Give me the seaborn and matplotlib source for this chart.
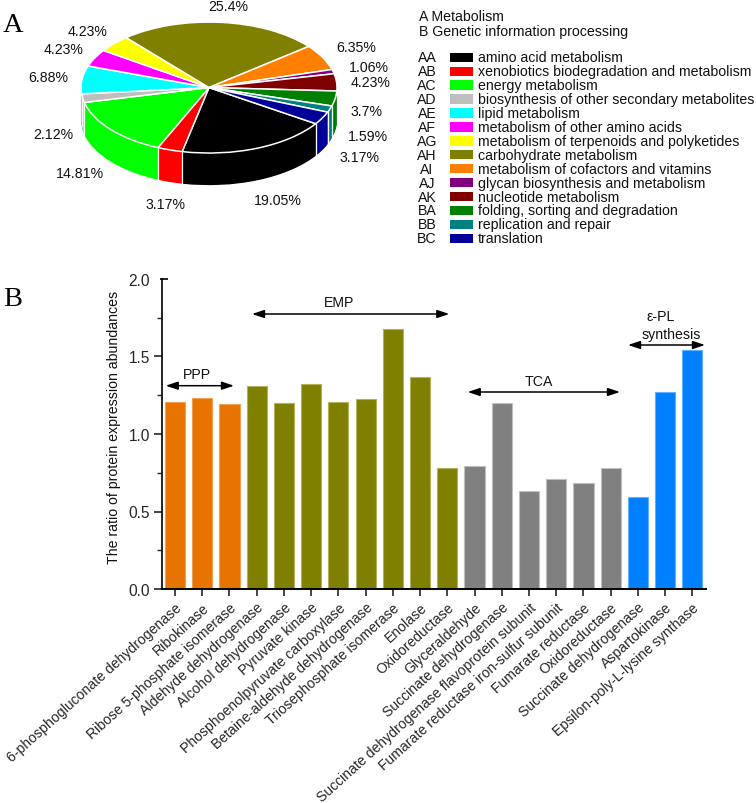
import numpy as np
import pandas as pd
import matplotlib
matplotlib.use('Agg')
import matplotlib.pyplot as plt
from matplotlib.patches import Rectangle
from matplotlib.transforms import ScaledTranslation
import seaborn as sns

# Pie data (panel A)
pie_codes = ['AA', 'AB', 'AC', 'AD', 'AE', 'AF', 'AG', 'AH', 'AI', 'AJ', 'AK', 'BA', 'BB', 'BC']
pie_names = ['amino acid metabolism', 'xenobiotics biodegradation and metabolism', 'energy metabolism',
             'biosynthesis of other secondary metabolites', 'lipid metabolism',
             'metabolism of other amino acids', 'metabolism of terpenoids and polyketides',
             'carbohydrate metabolism', 'metabolism of cofactors and vitamins',
             'glycan biosynthesis and metabolism', 'nucleotide metabolism',
             'folding, sorting and degradation', 'replication and repair', 'translation']
pie_values = [19.05, 3.17, 14.81, 2.12, 6.88, 4.23, 4.23, 25.4, 6.35, 1.06, 4.23, 3.7, 1.59, 3.17]
pie_colors = ['#000000', '#FF0000', '#00FF00', '#BEBEBE', '#00FFFF', '#FF00FF', '#FFFF00',
              '#808000', '#FF8000', '#800080', '#800000', '#008000', '#008080', '#000099']

# Bar data (panel B)
proteins = ['6-phosphogluconate dehydrogenase', 'Ribokinase', 'Ribose 5-phosphate isomerase',
            'Aldehyde dehydrogenase', 'Alcohol dehydrogenase', 'Pyruvate kinase',
            'Phosphoenolpyruvate carboxylase', 'Betaine-aldehyde dehydrogenase',
            'Triosephosphate isomerase', 'Enolase', 'Oxidoreductase', 'Glyceraldehyde',
            'Succinate dehydrogenase', 'Succinate dehydrogenase flavoprotein subunit',
            'Fumarate reductase iron-sulfur subunit', 'Fumarate reductase', 'Oxidoreductase ',
            'Succinate dehydrogenase ', 'Aspartokinase', 'Epsilon-poly-L-lysine synthase']
ratios = [1.204, 1.23, 1.193, 1.307, 1.198, 1.325, 1.209, 1.226, 1.675, 1.366, 0.783,
          0.794, 1.2, 0.63, 0.708, 0.686, 0.783, 0.591, 1.273, 1.54]
groups = ['PPP'] * 3 + ['EMP'] * 8 + ['TCA'] * 6 + ['PL'] * 3
group_colors = {'PPP': '#E87400', 'EMP': '#808000', 'TCA': '#808080', 'PL': '#0080FF'}
group_edges = {'PPP': '#F0A050', 'EMP': '#B0B060', 'TCA': '#C0C0C0', 'PL': '#60B0FF'}

W, H = 756, 804
FONT = 10.2


def px_axes(fig, left, top, right, bottom):
    # axes placed by pixel box, origin top left
    return fig.add_axes([left / W, 1 - bottom / H, (right - left) / W, (bottom - top) / H])


sns.set_theme(style='white')
plt.rcParams['font.family'] = ['Liberation Sans', 'DejaVu Sans']
plt.rcParams['text.color'] = '#111111'
fig = plt.figure(figsize=(W / 100, H / 100), dpi=100)

# 3D looking pie: stacked pies for the wall, then the white-edged top
ax_pie = px_axes(fig, 68.2, 16.5, 349.8, 199.9)
depth = 0.49
start = -33.5
for dy in np.linspace(depth, 0.01, 50):
    ax_pie.pie(pie_values, colors=pie_colors, startangle=start, counterclock=False,
               center=(0, -dy), wedgeprops={'linewidth': 0})
angles = np.radians(start - np.cumsum(pie_values) / sum(pie_values) * 360)
for a in angles:
    if np.sin(a) < 0:
        ax_pie.plot([np.cos(a)] * 2, [np.sin(a), np.sin(a) - depth], color='white', lw=0.9)
ax_pie.pie(pie_values, colors=pie_colors, startangle=start, counterclock=False,
           wedgeprops={'linewidth': 1.1, 'edgecolor': 'white'})
ax_pie.set_aspect('auto')
ax_pie.set_xlim(-1.1, 1.1)
ax_pie.set_ylim(-1.7, 1.1)
ax_pie.axis('off')

# Bars
df = pd.DataFrame({'protein': proteins, 'ratio': ratios, 'group': groups})
ax = px_axes(fig, 161.7, 280, 706, 590)
sns.barplot(data=df, x='protein', y='ratio', hue='group', palette=group_colors, dodge=False,
            width=0.74, saturation=1, legend=False, ax=ax)
for group, cont in zip(df['group'].unique(), ax.containers):
    for bar in cont:
        bar.set_edgecolor(group_edges[group])
        bar.set_linewidth(0.8)
ax.set_xlim(-0.49, 19.5)
ax.set_ylim(0, 2)
ax.set_yticks([0, 0.5, 1.0, 1.5, 2.0])
ax.set_yticks([0.25, 0.75, 1.25, 1.75], minor=True)
ax.set_xlabel('')
ax.set_ylabel('')
ax.set_xticks(range(len(proteins)))
ax.set_xticklabels([p.strip() for p in proteins], rotation=42, ha='right', va='top',
                   rotation_mode='anchor', fontsize=10.05)
shift = ScaledTranslation(-4 / 100, 0, fig.dpi_scale_trans)
for lab in ax.get_xticklabels():
    lab.set_transform(lab.get_transform() + shift)
ax.tick_params(axis='y', which='major', left=True, length=5.5, width=1.2, labelsize=FONT + 1, pad=3)
ax.tick_params(axis='y', which='minor', left=True, length=3.5, width=1.0)
ax.tick_params(axis='x', bottom=True, length=5, width=1.2, pad=3)
# the top tick points inwards in the reference
ax.yaxis.get_major_ticks()[-1].tick1line.set_visible(False)
sns.despine(ax=ax)
ax.spines['left'].set_linewidth(1.2)
ax.spines['bottom'].set_linewidth(1.4)
ax.spines['left'].set_color('black')
ax.spines['bottom'].set_color('black')

# Overlay in pixel coordinates for the annotation text and legend
ov = fig.add_axes([0, 0, 1, 1], zorder=5)
ov.set_xlim(0, W)
ov.set_ylim(H, 0)
ov.axis('off')

ov.plot([160, 168], [280, 280], color='black', lw=1.2, solid_capstyle='butt')
ov.text(114, 427, 'The ratio of protein expression abundances', fontsize=FONT,
        rotation=90, ha='center', va='center')

pct_pos = [(278, 201), (166, 205), (80, 174), (53, 135), (48, 78), (64, 50), (88, 32),
           (228, 7), (356, 48), (369, 68), (371, 83), (367, 112), (368, 137), (360, 158)]
for v, (x, y) in zip(pie_values, pct_pos):
    ov.text(x, y, f'{v:g}%', ha='center', va='center', fontsize=FONT)

ov.text(3, 26, 'A', family='Liberation Serif', fontsize=20.5, va='center', color='black')
ov.text(3, 300, 'B', family='Liberation Serif', fontsize=20.5, va='center', color='black')

ov.text(419, 16.7, 'A Metabolism', fontsize=FONT, va='center')
ov.text(419, 32, 'B Genetic information processing', fontsize=FONT, va='center')
for i, (code, name, col) in enumerate(zip(pie_codes, pie_names, pie_colors)):
    y = 58.3 + i * 13.92
    ov.text(427, y, code, fontsize=FONT, ha='center', va='center')
    ov.add_patch(Rectangle((449.5, y - 4.7), 23.5, 9.4, facecolor=col, edgecolor='none'))
    ov.text(478, y, name, fontsize=FONT, va='center')

arrows = [(165.7, 234, 386.7), (252, 449.3, 315), (467.7, 620, 393), (628, 705, 346)]
for x0, x1, y in arrows:
    ov.annotate('', xy=(x0, y), xytext=(x1, y),
                arrowprops=dict(arrowstyle='<|-|>,head_length=0.6,head_width=0.2', color='black',
                                lw=1.1, shrinkA=0, shrinkB=0))
for txt, x, y in [('PPP', 196.7, 375), ('EMP', 339, 303), ('TCA', 539, 382),
                  ('\u03b5-PL', 660.7, 317), ('synthesis', 671.7, 335)]:
    ov.text(x, y, txt, fontsize=FONT, ha='center', va='center')

fig.savefig('out.png', dpi=100)
